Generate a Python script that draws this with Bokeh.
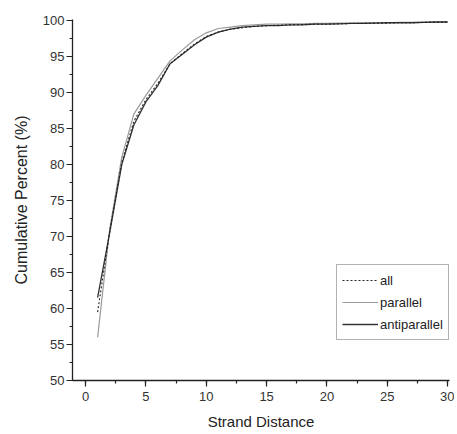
from bokeh.plotting import figure
from bokeh.models import Range1d, SingleIntervalTicker, Legend, LegendItem
from bokeh.embed import file_html
from bokeh.resources import INLINE

distance = list(range(1, 31))
all_pct = [59.5, 70.7, 80.3, 86.0, 89.0, 91.3, 94.0, 95.4, 96.7, 97.8,
           98.4, 98.8, 99.0, 99.2, 99.3, 99.35, 99.4, 99.45, 99.5, 99.5,
           99.55, 99.6, 99.6, 99.65, 99.65, 99.7, 99.7, 99.75, 99.75, 99.8]
parallel_pct = [56.0, 71.0, 81.0, 87.0, 89.6, 92.0, 94.4, 95.9, 97.3, 98.3,
                98.9, 99.1, 99.3, 99.4, 99.5, 99.5, 99.55, 99.55, 99.6, 99.6,
                99.65, 99.65, 99.7, 99.7, 99.7, 99.75, 99.75, 99.8, 99.8, 99.8]
antiparallel_pct = [61.5, 70.5, 80.0, 85.5, 88.7, 91.0, 94.0, 95.3, 96.6, 97.7,
                    98.4, 98.8, 99.1, 99.2, 99.3, 99.3, 99.4, 99.4, 99.5, 99.5,
                    99.55, 99.6, 99.6, 99.65, 99.7, 99.7, 99.7, 99.75, 99.8, 99.8]
x_ticks_step = 5
y_ticks_step = 5

FONT = "Liberation Sans"
TXT = "#333333"

p = figure(width=454, height=432, output_backend="svg", toolbar_location=None,
           x_range=Range1d(-1.08, 30.15), y_range=Range1d(50, 100.15),
           min_border_left=72, min_border_right=5, min_border_top=19, min_border_bottom=50)
p.outline_line_color = None
p.xgrid.visible = False
p.ygrid.visible = False
p.background_fill_color = "white"

p.xaxis.ticker = SingleIntervalTicker(interval=x_ticks_step, num_minor_ticks=2)
p.yaxis.ticker = SingleIntervalTicker(interval=y_ticks_step, num_minor_ticks=2)

for ax in (p.xaxis[0], p.yaxis[0]):
    ax.axis_line_color = "#222222"
    ax.axis_line_width = 1.3
    ax.major_tick_line_color = "#222222"
    ax.major_tick_line_width = 1.2
    ax.minor_tick_line_color = "#222222"
    ax.minor_tick_line_width = 1.2
    ax.major_tick_in = 0
    ax.major_tick_out = 6
    ax.minor_tick_in = 0
    ax.minor_tick_out = 3
    ax.major_label_text_font = FONT
    ax.major_label_text_font_size = "13px"
    ax.major_label_text_color = TXT
    ax.axis_label_text_font = FONT
    ax.axis_label_text_font_style = "normal"
    ax.axis_label_text_color = "#222222"

p.xaxis.axis_label = "Strand Distance"
p.yaxis.axis_label = "Cumulative Percent (%)"
p.xaxis.axis_label_text_font_size = "15px"
p.yaxis.axis_label_text_font_size = "16px"
p.xaxis.major_label_standoff = 5
p.xaxis.axis_label_standoff = 9
p.yaxis.major_label_standoff = 2
p.yaxis.axis_label_standoff = 10

r_par = p.line(distance, parallel_pct, line_color="#9a9a9a", line_width=1.2)
r_anti = p.line(distance, antiparallel_pct, line_color="#333333", line_width=1.3)
r_all = p.line(distance, all_pct, line_color="#222222", line_width=1.1, line_dash="2 2")

legend = Legend(items=[LegendItem(label="all", renderers=[r_all]),
                       LegendItem(label="parallel", renderers=[r_par]),
                       LegendItem(label="antiparallel", renderers=[r_anti])],
                location=(264, 40))
legend.label_text_font = FONT
legend.label_text_font_size = "13px"
legend.label_text_color = "#222222"
legend.border_line_color = "#666666"
legend.border_line_width = 1
legend.background_fill_alpha = 1
legend.padding = 5
legend.spacing = 2
legend.label_height = 20
legend.glyph_height = 20
legend.glyph_width = 36
legend.label_standoff = 2
legend.margin = 0
p.add_layout(legend, "center")

open("out.html", "w").write(file_html(p, INLINE))
